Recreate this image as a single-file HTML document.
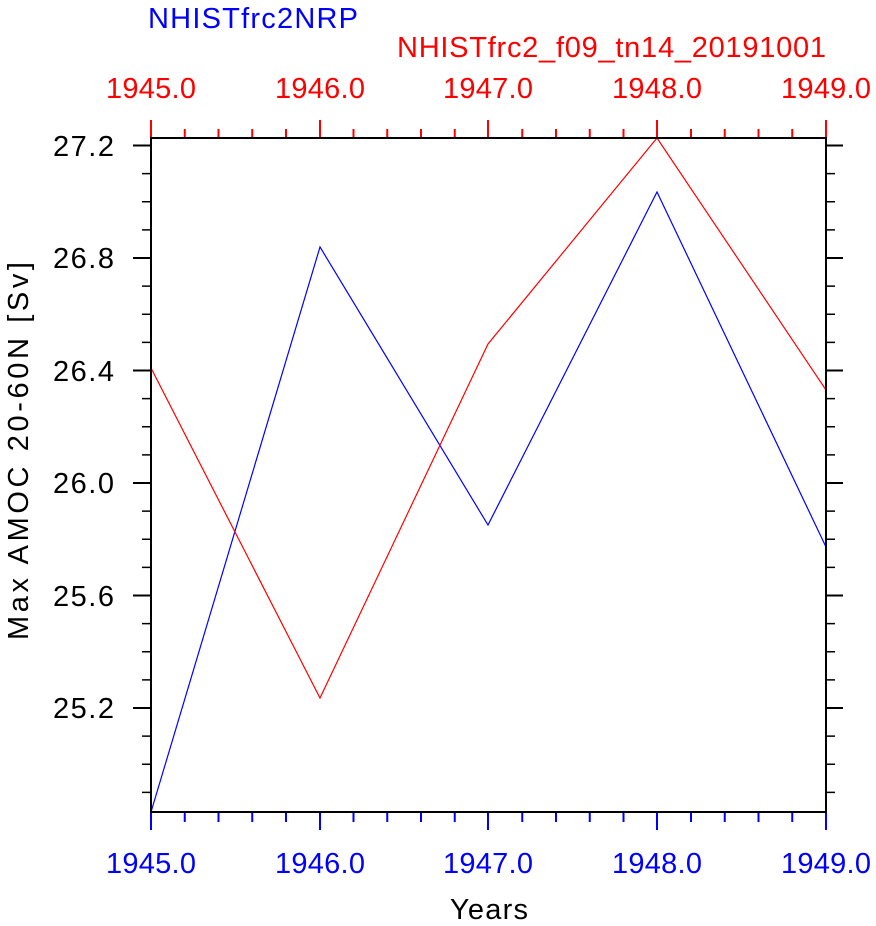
<!DOCTYPE html><html><head><style>body{margin:0;background:#fff}svg{display:block}text{font-family:"Liberation Sans",Arial,sans-serif}</style></head><body>
<svg width="876" height="926" xmlns="http://www.w3.org/2000/svg">
<g stroke="#00f" stroke-width="2">
<line x1="151" x2="151" y1="812" y2="830"/><line x1="184.75" x2="184.75" y1="812" y2="822"/><line x1="218.5" x2="218.5" y1="812" y2="822"/><line x1="252.25" x2="252.25" y1="812" y2="822"/><line x1="286" x2="286" y1="812" y2="822"/>
<line x1="320" x2="320" y1="812" y2="830"/><line x1="353.5" x2="353.5" y1="812" y2="822"/><line x1="387.25" x2="387.25" y1="812" y2="822"/><line x1="421" x2="421" y1="812" y2="822"/><line x1="454.75" x2="454.75" y1="812" y2="822"/>
<line x1="488" x2="488" y1="812" y2="830"/><line x1="522.25" x2="522.25" y1="812" y2="822"/><line x1="556" x2="556" y1="812" y2="822"/><line x1="589.75" x2="589.75" y1="812" y2="822"/><line x1="623.5" x2="623.5" y1="812" y2="822"/>
<line x1="657" x2="657" y1="812" y2="830"/><line x1="691" x2="691" y1="812" y2="822"/><line x1="724.75" x2="724.75" y1="812" y2="822"/><line x1="758.5" x2="758.5" y1="812" y2="822"/><line x1="792.25" x2="792.25" y1="812" y2="822"/>
<line x1="826" x2="826" y1="812" y2="830"/></g>
<g stroke="#f00" stroke-width="2">
<line x1="151" x2="151" y1="138" y2="120"/><line x1="184.75" x2="184.75" y1="138" y2="129"/><line x1="218.5" x2="218.5" y1="138" y2="129"/><line x1="252.25" x2="252.25" y1="138" y2="129"/><line x1="286" x2="286" y1="138" y2="129"/>
<line x1="320" x2="320" y1="138" y2="120"/><line x1="353.5" x2="353.5" y1="138" y2="129"/><line x1="387.25" x2="387.25" y1="138" y2="129"/><line x1="421" x2="421" y1="138" y2="129"/><line x1="454.75" x2="454.75" y1="138" y2="129"/>
<line x1="488" x2="488" y1="138" y2="120"/><line x1="522.25" x2="522.25" y1="138" y2="129"/><line x1="556" x2="556" y1="138" y2="129"/><line x1="589.75" x2="589.75" y1="138" y2="129"/><line x1="623.5" x2="623.5" y1="138" y2="129"/>
<line x1="657" x2="657" y1="138" y2="120"/><line x1="691" x2="691" y1="138" y2="129"/><line x1="724.75" x2="724.75" y1="138" y2="129"/><line x1="758.5" x2="758.5" y1="138" y2="129"/><line x1="792.25" x2="792.25" y1="138" y2="129"/>
<line x1="826" x2="826" y1="138" y2="120"/></g>
<g stroke="#000" stroke-width="2">
<path d="M151 145.5H133M151 258H133M151 370.5H133M151 483H133M151 595.5H133M151 708H133M826 145.5H843M826 258H843M826 370.5H843M826 483H843M826 595.5H843M826 708H843"/>
<path stroke-width="1.5" d="M151 173.6H142M151 201.7H142M151 229.9H142M151 286.1H142M151 314.2H142M151 342.4H142M151 398.6H142M151 426.7H142M151 454.9H142M151 511.1H142M151 539.2H142M151 567.4H142M151 623.6H142M151 651.7H142M151 679.9H142M151 736.1H142M151 764.2H142M151 792.4H142
M826 173.6H835M826 201.7H835M826 229.9H835M826 286.1H835M826 314.2H835M826 342.4H835M826 398.6H835M826 426.7H835M826 454.9H835M826 511.1H835M826 539.2H835M826 567.4H835M826 623.6H835M826 651.7H835M826 679.9H835M826 736.1H835M826 764.2H835M826 792.4H835"/>
</g>
<polyline fill="none" stroke="#00f" stroke-width="1.2" points="151,812 320,247 488,525 657,192 826,547"/>
<polyline fill="none" stroke="#f00" stroke-width="1.2" points="151,368 320,698 488,344 657,138 826,390"/>
<rect x="151" y="138" width="675" height="674" fill="none" stroke="#000" stroke-width="2"/>
<g font-size="29" text-anchor="middle" fill="#00f">
<text x="151" y="873" textLength="90">1945.0</text><text x="320" y="873" textLength="90">1946.0</text><text x="488" y="873" textLength="90">1947.0</text><text x="657" y="873" textLength="90">1948.0</text><text x="826" y="873" textLength="90">1949.0</text></g>
<g font-size="29" text-anchor="middle" fill="#f00">
<text x="151" y="98" textLength="90">1945.0</text><text x="320" y="98" textLength="90">1946.0</text><text x="488" y="98" textLength="90">1947.0</text><text x="657" y="98" textLength="90">1948.0</text><text x="826" y="98" textLength="90">1949.0</text></g>
<g font-size="29" text-anchor="end" fill="#000">
<text x="114" y="156" textLength="61">27.2</text><text x="114" y="268" textLength="61">26.8</text><text x="114" y="381" textLength="61">26.4</text><text x="114" y="493" textLength="61">26.0</text><text x="114" y="606" textLength="61">25.6</text><text x="114" y="718" textLength="61">25.2</text></g>
<text x="489" y="919" font-size="29" text-anchor="middle" textLength="78">Years</text>
<text transform="translate(28,451) rotate(-90)" font-size="29" text-anchor="middle" textLength="378">Max AMOC 20-60N [Sv]</text>
<text x="148" y="28" font-size="29" fill="#00f" textLength="210">NHISTfrc2NRP</text>
<text x="397" y="57" font-size="29" fill="#f00" textLength="429">NHISTfrc2_f09_tn14_20191001</text>
</svg></body></html>
